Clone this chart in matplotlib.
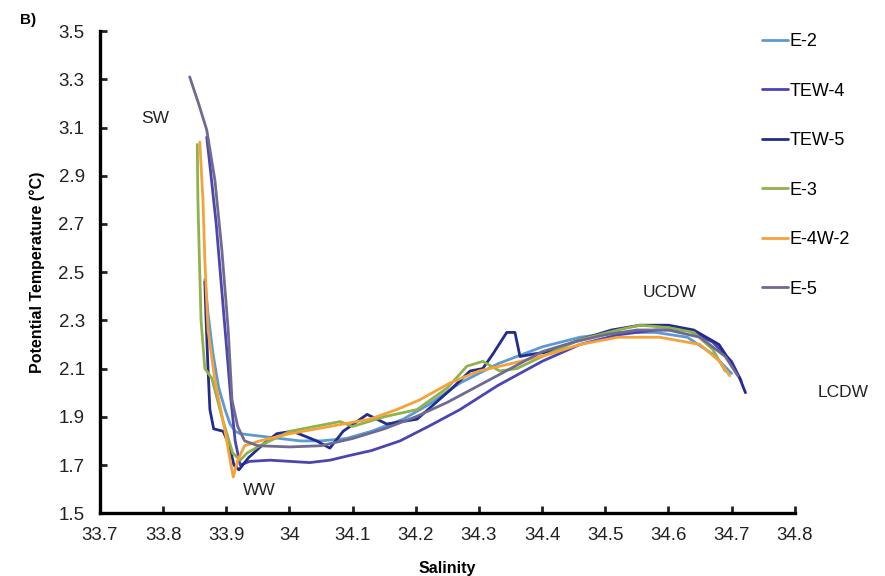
import matplotlib
matplotlib.use("Agg")
from matplotlib import pyplot as plt

plt.rcParams['font.family'] = ['Liberation Sans', 'DejaVu Sans']

# Salinity / potential temperature profiles
sal_e2 = [33.866, 33.871, 33.879, 33.888, 33.898, 33.906, 33.914, 33.922, 33.937, 33.953,
          33.985, 34.017, 34.05, 34.09, 34.13, 34.18, 34.22, 34.27, 34.33, 34.40, 34.46,
          34.52, 34.58, 34.63, 34.67, 34.70]
temp_e2 = [2.47, 2.33, 2.16, 2.02, 1.93, 1.87, 1.84, 1.83, 1.825, 1.82,
           1.81, 1.80, 1.80, 1.81, 1.84, 1.89, 1.95, 2.04, 2.12, 2.19, 2.23,
           2.25, 2.25, 2.23, 2.16, 2.08]

sal_tew4 = [33.869, 33.875, 33.884, 33.892, 33.900, 33.907, 33.914, 33.922, 33.937, 33.969,
            34.001, 34.032, 34.064, 34.096, 34.13, 34.175, 34.22, 34.27, 34.33, 34.40,
            34.46, 34.52, 34.58, 34.63, 34.67, 34.70, 34.715]
temp_tew4 = [3.06, 2.92, 2.70, 2.45, 2.20, 1.98, 1.80, 1.70, 1.715, 1.72,
             1.715, 1.71, 1.72, 1.74, 1.76, 1.80, 1.86, 1.93, 2.03, 2.13,
             2.20, 2.24, 2.26, 2.26, 2.21, 2.13, 2.05]

sal_tew5 = [33.866, 33.868, 33.871, 33.874, 33.880, 33.895, 33.905, 33.912, 33.920, 33.935,
            33.960, 33.980, 34.005, 34.043, 34.064, 34.085, 34.123, 34.154, 34.202, 34.254,
            34.286, 34.306, 34.322, 34.344, 34.357, 34.365, 34.385, 34.412, 34.46, 34.51,
            34.555, 34.60, 34.64, 34.68, 34.70, 34.713, 34.722]
temp_tew5 = [2.46, 2.30, 2.10, 1.93, 1.85, 1.84, 1.78, 1.70, 1.68, 1.73,
             1.79, 1.83, 1.84, 1.80, 1.77, 1.84, 1.91, 1.87, 1.89, 2.01,
             2.09, 2.10, 2.16, 2.25, 2.25, 2.15, 2.16, 2.17, 2.22, 2.26,
             2.28, 2.28, 2.26, 2.20, 2.12, 2.06, 2.00]

sal_e3 = [33.854, 33.855, 33.857, 33.860, 33.866, 33.877, 33.893, 33.910, 33.922, 33.933,
          33.953, 33.985, 34.001, 34.04, 34.08, 34.10, 34.15, 34.202, 34.25, 34.281,
          34.306, 34.333, 34.36, 34.40, 34.46, 34.52, 34.555, 34.60, 34.64, 34.67, 34.69]
temp_e3 = [3.03, 2.80, 2.59, 2.30, 2.10, 2.06, 1.90, 1.75, 1.72, 1.75,
           1.78, 1.82, 1.84, 1.86, 1.88, 1.86, 1.90, 1.93, 2.02, 2.11,
           2.13, 2.09, 2.10, 2.15, 2.22, 2.26, 2.28, 2.27, 2.25, 2.18, 2.09]

sal_e4w2 = [33.858, 33.863, 33.866, 33.871, 33.882, 33.898, 33.906, 33.911, 33.918, 33.929,
            33.953, 34.001, 34.064, 34.127, 34.17, 34.206, 34.254, 34.30, 34.35, 34.412,
            34.46, 34.52, 34.586, 34.65, 34.681, 34.697]
temp_e4w2 = [3.04, 2.80, 2.55, 2.26, 2.05, 1.84, 1.72, 1.65, 1.72, 1.78,
             1.80, 1.83, 1.86, 1.89, 1.93, 1.97, 2.04, 2.09, 2.12, 2.16,
             2.20, 2.23, 2.23, 2.20, 2.13, 2.07]

sal_e5 = [33.842, 33.856, 33.869, 33.882, 33.893, 33.903, 33.909, 33.918, 33.929, 33.950,
          34.001, 34.05, 34.10, 34.15, 34.20, 34.25, 34.30, 34.35, 34.40, 34.45,
          34.50, 34.55, 34.60, 34.65, 34.69, 34.71]
temp_e5 = [3.31, 3.20, 3.09, 2.88, 2.59, 2.26, 1.97, 1.86, 1.80, 1.78,
           1.775, 1.78, 1.81, 1.85, 1.90, 1.96, 2.03, 2.10, 2.17, 2.21,
           2.24, 2.26, 2.26, 2.23, 2.15, 2.07]

series = [
    ("E-2", sal_e2, temp_e2, "#5b9bd5"),
    ("TEW-4", sal_tew4, temp_tew4, "#4a45b0"),
    ("TEW-5", sal_tew5, temp_tew5, "#232c8e"),
    ("E-3", sal_e3, temp_e3, "#8fb24a"),
    ("E-4W-2", sal_e4w2, temp_e4w2, "#f6a23a"),
    ("E-5", sal_e5, temp_e5, "#6f6a92"),
]

x_ticks = [33.7, 33.8, 33.9, 34.0, 34.1, 34.2, 34.3, 34.4, 34.5, 34.6, 34.7, 34.8]
x_labels = ["33.7", "33.8", "33.9", "34", "34.1", "34.2", "34.3", "34.4", "34.5", "34.6", "34.7", "34.8"]
y_ticks = [1.5, 1.7, 1.9, 2.1, 2.3, 2.5, 2.7, 2.9, 3.1, 3.3, 3.5]

# water mass labels
masses = [("SW", 33.787, 3.139), ("WW", 33.952, 1.595), ("UCDW", 34.602, 2.417), ("LCDW", 34.876, 2.002)]

fig = plt.figure(figsize=(8.85, 5.76), dpi=100)
ax = fig.add_axes([0.113, 0.109, 0.785, 0.837])

for name, s, t, c in series:
    ax.plot(s, t, color=c, lw=2.0, label=name, solid_capstyle="round")

ax.set_xlim(33.7, 34.8)
ax.set_ylim(1.5, 3.5)
ax.set_xticks(x_ticks)
ax.set_xticklabels(x_labels)
ax.set_yticks(y_ticks)
ax.set_yticklabels([f"{v:.1f}" for v in y_ticks])

for side in ("top", "right"):
    ax.spines[side].set_visible(False)
for side in ("left", "bottom"):
    ax.spines[side].set_linewidth(2.4)
ax.tick_params(direction="in", length=5, width=2, labelsize=13.5, colors="#222222")
ax.tick_params(axis="x", pad=10)
ax.tick_params(axis="y", pad=11)

ax.set_xlabel("Salinity", fontsize=11.5, fontweight="bold", labelpad=12)
ax.set_ylabel("Potential Temperature (°C)", fontsize=11.5, fontweight="bold", labelpad=10)

for txt, x, y in masses:
    ax.text(x, y, txt, fontsize=12.5, ha="center", va="center", color="#222222", clip_on=False)

fig.text(0.023, 0.965, "B)", fontsize=11, fontweight="bold", va="center")

ax.legend(loc="upper left", bbox_to_anchor=(755 / 885, 1 - 26 / 576), bbox_transform=fig.transFigure,
          frameon=False, fontsize=13, handlelength=1.4, handletextpad=0.1, labelspacing=1.8,
          borderaxespad=0)

fig.savefig("out.png", dpi=100)
